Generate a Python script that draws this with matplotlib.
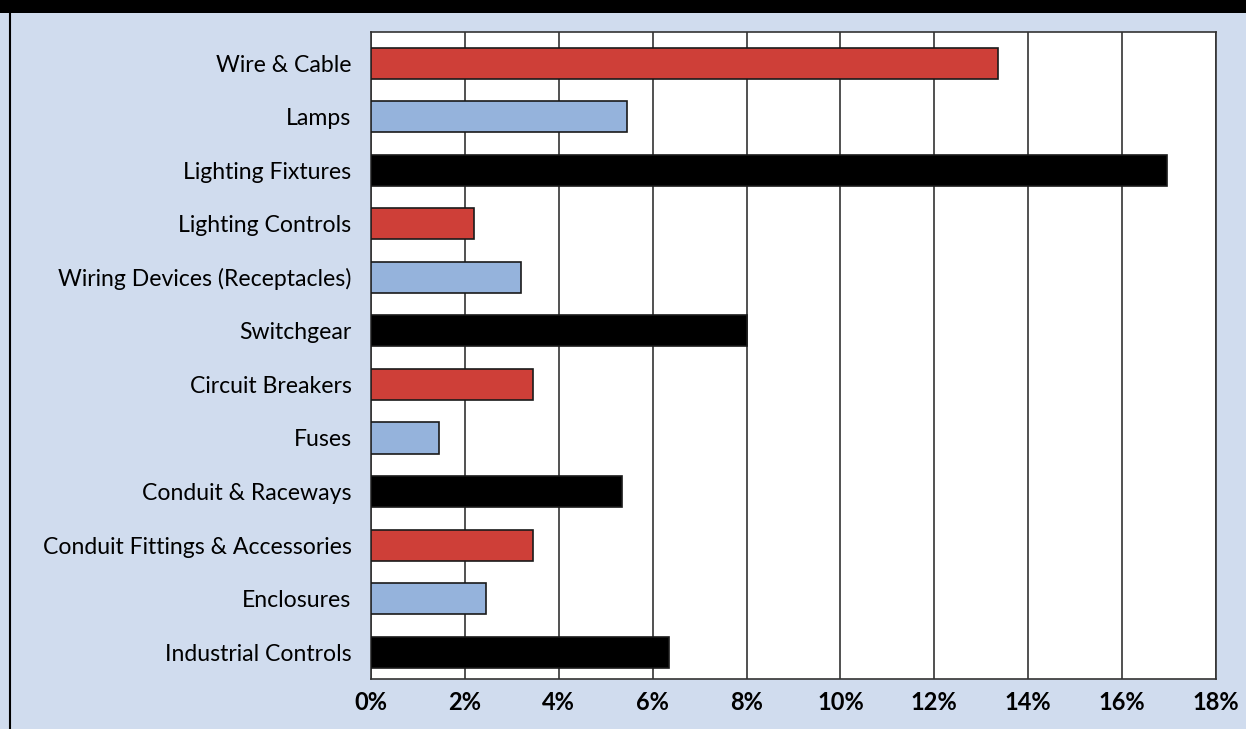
import matplotlib.pyplot as plt
from matplotlib.patches import Rectangle

categories = ['Wire & Cable', 'Lamps', 'Lighting Fixtures', 'Lighting Controls',
              'Wiring Devices (Receptacles)', 'Switchgear', 'Circuit Breakers', 'Fuses',
              'Conduit & Raceways', 'Conduit Fittings & Accessories', 'Enclosures',
              'Industrial Controls']
shares = [13.35, 5.45, 16.95, 2.2, 3.2, 8.0, 3.45, 1.45, 5.35, 3.45, 2.45, 6.35]
palette = ['#CE3F38', '#95B3DC', '#000000']
xticks = [0, 2, 4, 6, 8, 10, 12, 14, 16, 18]

plt.rcParams['font.family'] = ['Lato', 'DejaVu Sans']

W, H = 1246, 729
fig = plt.figure(figsize=(W / 100, H / 100), dpi=100, facecolor='#D0DCEE')

# black header strip and left rule
fig.patches.append(Rectangle((0, 1 - 13 / H), 1, 13 / H, transform=fig.transFigure,
                             facecolor='black', edgecolor='none', zorder=0))
fig.add_artist(plt.Line2D([9.5 / W, 9.5 / W], [0, 1 - 13 / H], color='black', lw=1.5,
                          transform=fig.transFigure))

ax = fig.add_axes([371 / W, 50 / H, (1216 - 371) / W, (679 - 32) / H])
ax.set_facecolor('white')

ypos = list(range(len(categories)))
colors = [palette[i % 3] for i in ypos]
ax.barh(ypos, shares, height=0.58, color=colors, edgecolor='#1a1a1a', linewidth=1.2, zorder=3)

ax.set_xlim(0, 18)
ax.set_ylim(len(categories) - 0.5, -0.58)
ax.set_xticks(xticks)
ax.set_xticklabels([f'{t}%' for t in xticks], fontsize=17, fontweight='bold')
ax.set_yticks(ypos)
ax.set_yticklabels(categories, fontsize=16.6)
ax.tick_params(axis='y', length=0, pad=14)
ax.tick_params(axis='x', length=0, pad=9)

ax.grid(axis='x', color='#333333', linewidth=1.2, zorder=1)
for s in ax.spines.values():
    s.set_color('#333333')
    s.set_linewidth(1.2)

fig.savefig('out.png', dpi=100, facecolor=fig.get_facecolor())
